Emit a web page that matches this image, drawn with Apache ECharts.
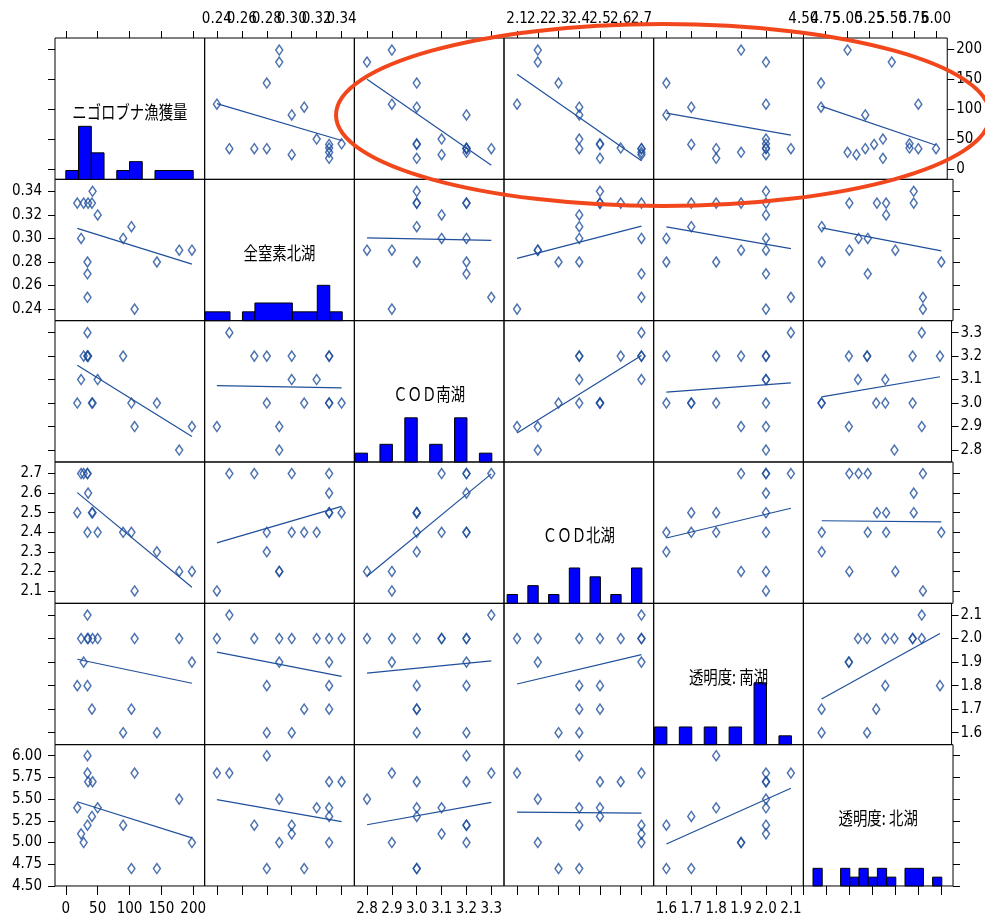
<!DOCTYPE html>
<html>
<head>
<meta charset="utf-8">
<title>散布図行列</title>
<script src="https://cdn.jsdelivr.net/npm/echarts@6/dist/echarts.min.js"></script>
<style>
html, body { margin: 0; padding: 0; background: #fff; }
#chart { width: 985px; height: 920px; }
</style>
</head>
<body>
<div id="chart"></div>
<script>
// 16 observations, same order in every array
var catchAmount = [198, 178, 143, 108, 103, 90, 50, 42, 35, 41, 34, 34, 34, 28, 24, 18]
var nitrogenNorth = [0.29, 0.29, 0.28, 0.24, 0.31, 0.30, 0.32, 0.34, 0.33, 0.33, 0.25, 0.28, 0.27, 0.33, 0.30, 0.33]
var codSouth = [2.9, 2.8, 3.0, 2.9, 3.0, 3.2, 3.1, 3.0, 3.2, 3.0, 3.3, 3.2, 3.2, 3.2, 3.1, 3.0]
var codNorth = [2.2, 2.2, 2.3, 2.1, 2.4, 2.4, 2.4, 2.5, 2.6, 2.5, 2.7, 2.4, 2.7, 2.7, 2.7, 2.5]
var clarSouth = [1.9, 2.0, 1.6, 2.0, 1.7, 1.6, 2.0, 2.0, 2.0, 1.7, 2.1, 1.8, 2.0, 1.9, 2.0, 1.8]
var clarNorth = [5.0, 5.5, 4.7, 5.8, 4.7, 5.2, 5.4, 5.7, 5.7, 5.3, 5.8, 6.0, 5.2, 5.0, 5.1, 5.4]

var varNames = ['ニゴロブナ漁獲量', '全窒素北湖', 'ＣＯＤ南湖', 'ＣＯＤ北湖', '透明度: 南湖', '透明度: 北湖']

var catchTicks = [0, 50, 100, 150, 200]
var nitrogenTicks = [0.24, 0.26, 0.28, 0.30, 0.32, 0.34]
var codSouthTicks = [2.8, 2.9, 3.0, 3.1, 3.2, 3.3]
var codNorthTicks = [2.1, 2.2, 2.3, 2.4, 2.5, 2.6, 2.7]
var clarSouthTicks = [1.6, 1.7, 1.8, 1.9, 2.0, 2.1]
var clarNorthTicks = [4.50, 4.75, 5.00, 5.25, 5.50, 5.75, 6.00]

var columns = [catchAmount, nitrogenNorth, codSouth, codNorth, clarSouth, clarNorth]
var ticks = [catchTicks, nitrogenTicks, codSouthTicks, codNorthTicks, clarSouthTicks, clarNorthTicks]
var decimals = [0, 2, 1, 1, 1, 2]
var axisRange = [[-17, 218], [0.2302, 0.3502], [2.749, 3.351], [2.037, 2.759], [1.549, 2.150], [4.5, 6.127]]
// histogram: bin start, bin width, bin count, drawn bar width
var histBins = [[0, 20, 10, 20], [0.2305, 0.01, 11, 0.01], [2.702, 0.1, 6, 0.05], [2.002, 0.1, 7, 0.05], [1.502, 0.1, 6, 0.05], [4.605, 0.1, 14, 0.1]]

var left0 = 55, top0 = 38, cellW = 149.67, cellH = 141.33
var markColor = '#1f4f9b'
var labelFont = '"Liberation Sans Narrow", "DejaVu Sans Condensed", sans-serif'

var chart = echarts.init(document.getElementById('chart'))

function hiddenAxis(v, gridIndex, pos) {
    return {
        type: 'value',
        gridIndex: gridIndex,
        position: pos,
        min: axisRange[v][0],
        max: axisRange[v][1],
        axisLine: { show: false, onZero: false },
        splitLine: { show: false },
        axisTick: { show: false },
        axisLabel: { show: false }
    }
}

function tickAxis(v, gridIndex, pos, tickLen) {
    var ax = hiddenAxis(v, gridIndex, pos)
    ax.axisTick = { show: true, customValues: ticks[v], length: tickLen, lineStyle: { color: '#000', width: 1 } }
    return ax
}

// one axis per label, so the crowded labels are all kept like in the original plot
function labelAxis(v, val, gridIndex, pos, margin) {
    var ax = hiddenAxis(v, gridIndex, pos)
    ax.axisLabel = {
        show: true,
        customValues: [val],
        margin: margin,
        color: '#000',
        fontSize: 15,
        fontFamily: labelFont,
        showMinLabel: true,
        showMaxLabel: true,
        hideOverlap: false,
        formatter: function(x) {
            return Number(x).toFixed(decimals[v])
        }
    }
    return ax
}

function fitLine(xs, ys) {
    var n = xs.length, mx = 0, my = 0, sxy = 0, sxx = 0
    for (var i = 0; i < n; i++) { mx += xs[i] / n; my += ys[i] / n }
    for (var j = 0; j < n; j++) {
        sxy += (xs[j] - mx) * (ys[j] - my)
        sxx += (xs[j] - mx) * (xs[j] - mx)
    }
    var b = sxy / sxx, a = my - b * mx
    var x0 = Math.min.apply(null, xs), x1 = Math.max.apply(null, xs)
    return [[x0, a + b * x0], [x1, a + b * x1]]
}

function histogram(v) {
    var spec = histBins[v], counts = []
    for (var k = 0; k < spec[2]; k++) counts.push(0)
    columns[v].forEach(function(val) {
        var idx = Math.ceil((val - spec[0]) / spec[1] - 1e-6) - 1
        if (idx >= 0 && idx < spec[2]) counts[idx]++
    })
    // merge touching bins of equal height so the outline looks like one step
    var bars = []
    for (var i = 0; i < counts.length; i++) {
        if (!counts[i]) continue
        var right = spec[0] + (i + 1) * spec[1]
        var last = bars[bars.length - 1]
        if (spec[3] === spec[1] && last && last[2] === counts[i] && Math.abs(last[1] - (right - spec[1])) < 1e-9) {
            last[1] = right
        } else {
            bars.push([right - spec[3], right, counts[i]])
        }
    }
    return bars
}

var grids = [], xAxes = [], yAxes = [], series = [], graphics = []

for (var r = 0; r < 6; r++) {
    for (var c = 0; c < 6; c++) {
        var g = grids.length
        var gl = left0 + c * cellW, gt = top0 + r * cellH
        grids.push({
            left: gl, top: gt, width: cellW, height: cellH,
            show: true, borderColor: '#000', borderWidth: 1, backgroundColor: 'rgba(0,0,0,0)'
        })

        var xi = xAxes.length
        if (r === 5) {
            xAxes.push(tickAxis(c, g, 'bottom', 9))
            if (c % 2 === 0) ticks[c].forEach(function(t) { xAxes.push(labelAxis(c, t, g, 'bottom', 16)) })
        } else {
            xAxes.push(hiddenAxis(c, g, 'bottom'))
        }
        if (r === 0) {
            xAxes.push(tickAxis(c, g, 'top', 7))
            if (c % 2 === 1) ticks[c].forEach(function(t) { xAxes.push(labelAxis(c, t, g, 'top', 11)) })
        }

        var yi = yAxes.length
        if (r === c) {
            yAxes.push({ type: 'value', gridIndex: g, min: 0, max: 16, show: false, axisLine: { onZero: false } })
            if (c === 0) yAxes.push(tickAxis(r, g, 'left', 7))
            if (c === 5) yAxes.push(tickAxis(r, g, 'right', 7))

            series.push({
                type: 'custom',
                xAxisIndex: xi,
                yAxisIndex: yi,
                silent: true,
                data: histogram(c),
                encode: { x: [0, 1], y: 2 },
                renderItem: function(params, api) {
                    var p0 = api.coord([api.value(0), api.value(2)])
                    var p1 = api.coord([api.value(1), 0])
                    return {
                        type: 'rect',
                        shape: { x: p0[0], y: p0[1], width: p1[0] - p0[0], height: p1[1] - p0[1] },
                        style: { fill: '#0000ff', stroke: '#000', lineWidth: 1 }
                    }
                }
            })

            graphics.push({
                type: 'text',
                x: gl + cellW / 2,
                y: gt + cellH / 2 + 3,
                scaleX: 0.8,
                z: 10,
                style: {
                    text: varNames[r],
                    fontSize: 18,
                    fontFamily: '"Noto Sans CJK JP", sans-serif',
                    fill: '#000',
                    textAlign: 'center',
                    verticalAlign: 'middle'
                }
            })
        } else {
            if (c === 0) {
                yAxes.push(tickAxis(r, g, 'left', 7))
                if (r % 2 === 1) ticks[r].forEach(function(t) { yAxes.push(labelAxis(r, t, g, 'left', 13)) })
            } else {
                yAxes.push(hiddenAxis(r, g, 'left'))
            }
            if (c === 5) {
                yAxes.push(tickAxis(r, g, 'right', 7))
                if (r % 2 === 0) ticks[r].forEach(function(t) { yAxes.push(labelAxis(r, t, g, 'right', 9)) })
            }

            var pts = columns[c].map(function(x, i) { return [x, columns[r][i]] })
            series.push({
                type: 'scatter',
                xAxisIndex: xi,
                yAxisIndex: yi,
                silent: true,
                symbol: 'diamond',
                symbolSize: [7, 10],
                itemStyle: { color: 'rgba(0,0,0,0)', borderColor: markColor, borderWidth: 1.5 },
                data: pts
            })
            series.push({
                type: 'line',
                xAxisIndex: xi,
                yAxisIndex: yi,
                silent: true,
                symbol: 'none',
                lineStyle: { color: markColor, width: 1.2 },
                data: fitLine(columns[c], columns[r])
            })
        }
    }
}

// hand-drawn highlight around the top row
graphics.push({
    type: 'ellipse',
    z: 100,
    shape: { cx: 663, cy: 115, rx: 327, ry: 91 },
    style: { fill: 'none', stroke: '#f2471c', lineWidth: 4 }
})

chart.setOption({
    animation: false,
    grid: grids,
    xAxis: xAxes,
    yAxis: yAxes,
    series: series,
    graphic: graphics
})
</script>
</body>
</html>
